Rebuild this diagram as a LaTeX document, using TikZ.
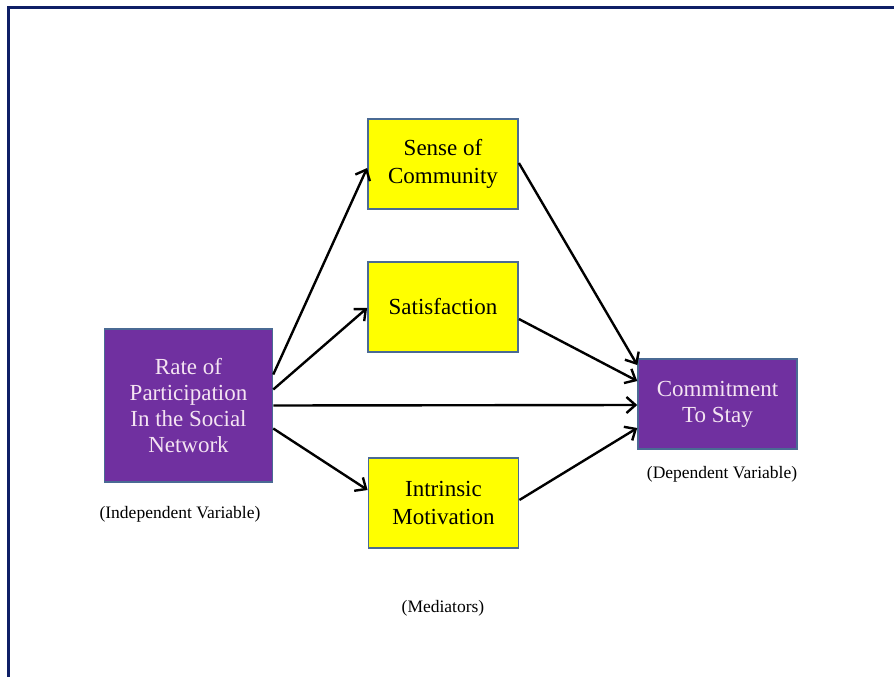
\documentclass[tikz,border=0pt]{standalone}
\usepackage{fontspec}
\setmainfont{Liberation Serif}
\usetikzlibrary{arrows.meta,calc}
\definecolor{framenavy}{HTML}{0E1F66}
\definecolor{boxpurple}{HTML}{7030A0}
\definecolor{boxedge}{HTML}{4A6A94}
\definecolor{boxyellow}{HTML}{FFFF00}
\definecolor{lighttext}{HTML}{F4E4F2}
\tikzset{
  purplebox/.style={draw=boxedge, line width=1.5pt, fill=boxpurple, text=lighttext,
    align=center, inner sep=0pt, font=\fontsize{23}{26}\selectfont},
  yellowbox/.style={draw=boxedge, line width=1.8pt, fill=boxyellow, text=black,
    align=center, inner sep=0pt, font=\fontsize{23}{28}\selectfont},
  caption/.style={font=\fontsize{17.5}{20}\selectfont, text=black, inner sep=0pt},
  arr/.style={draw=black, line width=2.4pt, -{Straight Barb[length=9pt,width=16pt,line width=2.4pt]}},
}
\begin{document}
\begin{tikzpicture}[x=1pt,y=-1pt]
\useasboundingbox (0,0) rectangle (894,677);
\fill[white] (0,0) rectangle (894,677);
\draw[framenavy, line width=3pt] (8,677) -- (8,7.5) -- (894,7.5);

\node[purplebox, minimum width=168pt, minimum height=153pt] (rate) at (188.5,405.5)
  {Rate of\\Participation\\In the Social\\Network};
\node[yellowbox, minimum width=150pt, minimum height=90pt] (sense) at (443,164)
  {Sense of\\Community};
\node[yellowbox, minimum width=150pt, minimum height=90pt] (sat) at (443,307)
  {Satisfaction};
\node[yellowbox, minimum width=150pt, minimum height=90pt] (intr) at (443.5,503)
  {Intrinsic\\Motivation};
\node[purplebox, minimum width=159pt, minimum height=90pt] (commit) at (717.5,404)
  {Commitment\\To Stay};

\node[caption] (indep) at (180,514) {(Independent Variable)};
\node[caption] (dep) at (722,474) {(Dependent Variable)};
\node[caption] (med) at (443,608) {(Mediators)};

\draw[arr] ($(rate.east)+(0,-31)$) -- ($(sense.west)+(0,4)$);
\draw[arr] ($(rate.east)+(0,-16)$) -- ($(sat.west)+(0,1)$);
\draw[arr] ($(rate.east)+(0,0)$) -- ($(commit.west)+(0,1)$);
\draw[arr] ($(rate.east)+(0,23)$) -- ($(intr.west)+(0,-13)$);
\draw[arr] ($(sense.east)+(0,-1)$) -- ($(commit.west)+(0,-39)$);
\draw[arr] ($(sat.east)+(0,12)$) -- ($(commit.west)+(0,-23)$);
\draw[arr] ($(intr.east)+(0,-3)$) -- ($(commit.west)+(0,24)$);
\end{tikzpicture}
\end{document}
